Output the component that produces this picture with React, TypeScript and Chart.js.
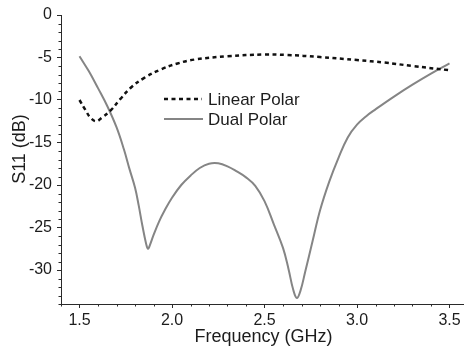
import { useEffect, useRef } from "react";
import { Chart, registerables } from "chart.js";

Chart.register(...registerables);

// Dual Polar (solid gray)
const freqDual = [
  1.5, 1.55, 1.6, 1.65, 1.7, 1.74, 1.77, 1.8, 1.82, 1.84, 1.86, 1.87, 1.88, 1.9, 1.93, 1.96,
  2.0, 2.05, 2.1, 2.15, 2.2, 2.25, 2.3, 2.35, 2.4, 2.45, 2.5, 2.55, 2.6, 2.63, 2.655, 2.675,
  2.695, 2.72, 2.76, 2.8, 2.85, 2.9, 2.95, 3.0, 3.05, 3.1, 3.2, 3.3, 3.4, 3.5,
];
const s11Dual = [
  -4.85, -6.6, -8.6, -10.7, -13.2, -15.8, -18.1, -20.3, -22.4, -24.8, -26.9, -27.5, -27.1,
  -25.9, -24.3, -23.0, -21.5, -20.0, -18.9, -18.0, -17.5, -17.45, -17.8, -18.4, -19.1, -20.1,
  -21.9, -24.6, -27.4, -29.9, -32.3, -33.3, -32.4, -30.2, -26.6, -23.0, -19.6, -16.8, -14.4,
  -12.9, -11.9, -11.1, -9.6, -8.2, -6.9, -5.7,
];

// Linear Polar (dashed black)
const freqLinear = [
  1.5, 1.53, 1.56, 1.59, 1.62, 1.67, 1.72, 1.78, 1.85, 1.94, 2.03, 2.12, 2.3, 2.5, 2.62, 2.8,
  3.0, 3.15, 3.3, 3.5,
];
const s11Linear = [
  -10.0, -11.1, -12.1, -12.5, -12.1, -11.2, -9.9, -8.5, -7.4, -6.4, -5.7, -5.25, -4.85, -4.65,
  -4.7, -4.95, -5.3, -5.6, -6.0, -6.5,
];

const xTickValues = [1.5, 2.0, 2.5, 3.0, 3.5];
const yTickValues = [0, -5, -10, -15, -20, -25, -30];
const xRange = [1.4, 3.6];
const yRange = [-34, 0];
const xMinorStep = 0.1;
const yMinorStep = 1;

const seriesNames = ["Linear Polar", "Dual Polar"];
const xTitle = "Frequency (GHz)";
const yTitle = "S11 (dB)";

const FONT = "'Liberation Sans', Arial, Helvetica, sans-serif";
const AXIS = "#2a2a2a";
const TEXT = "#1c1c1c";

export default function App() {
  const ref = useRef<HTMLCanvasElement | null>(null);

  useEffect(() => {
    const canvas = ref.current;
    if (!canvas) return;

    const decor = {
      id: "decor",
      afterDraw(chart: any) {
        const ctx = chart.ctx as CanvasRenderingContext2D;
        const xs = chart.scales.x;
        const ys = chart.scales.y;
        const area = chart.chartArea;
        ctx.save();
        // minor ticks
        ctx.strokeStyle = AXIS;
        ctx.lineWidth = 1;
        ctx.beginPath();
        const nx = Math.round((xRange[1] - xRange[0]) / xMinorStep);
        for (let i = 0; i <= nx; i++) {
          const v = xRange[0] + i * xMinorStep;
          if (xTickValues.some((t) => Math.abs(t - v) < 1e-6)) continue;
          const px = Math.round(xs.getPixelForValue(v)) + 0.5;
          ctx.moveTo(px, area.bottom);
          ctx.lineTo(px, area.bottom + 2.5);
        }
        const ny = Math.round((yRange[1] - yRange[0]) / yMinorStep);
        for (let i = 0; i <= ny; i++) {
          const v = yRange[1] - i * yMinorStep;
          if (yTickValues.some((t) => Math.abs(t - v) < 1e-6)) continue;
          const py = Math.round(ys.getPixelForValue(v)) + 0.5;
          ctx.moveTo(area.left, py);
          ctx.lineTo(area.left - 2.5, py);
        }
        ctx.stroke();

        // axis titles
        ctx.fillStyle = TEXT;
        ctx.font = `18px ${FONT}`;
        ctx.textAlign = "center";
        ctx.textBaseline = "middle";
        ctx.fillText(xTitle, (area.left + area.right) / 2 - 1, 337);
        ctx.save();
        ctx.translate(20, 149);
        ctx.rotate(-Math.PI / 2);
        ctx.fillText(yTitle, 0, 0);
        ctx.restore();

        // legend
        const lx0 = 164;
        const lx1 = 202;
        const ly = [99, 119];
        ctx.lineWidth = 2.5;
        ctx.strokeStyle = "#111111";
        ctx.setLineDash([4, 3.5]);
        ctx.beginPath();
        ctx.moveTo(lx0, ly[0]);
        ctx.lineTo(lx1, ly[0]);
        ctx.stroke();
        ctx.setLineDash([]);
        ctx.lineWidth = 2;
        ctx.strokeStyle = "#858585";
        ctx.beginPath();
        ctx.moveTo(lx0, ly[1]);
        ctx.lineTo(lx1 + 1, ly[1]);
        ctx.stroke();
        ctx.font = `17px ${FONT}`;
        ctx.textAlign = "left";
        ctx.fillStyle = TEXT;
        ctx.fillText(seriesNames[0], 208, ly[0] + 1);
        ctx.fillText(seriesNames[1], 208, ly[1] + 1);
        ctx.restore();
      },
    };

    const chart = new Chart(canvas, {
      type: "line",
      data: {
        datasets: [
          {
            label: seriesNames[0],
            data: freqLinear.map((f, i) => ({ x: f, y: s11Linear[i] })),
            borderColor: "#111111",
            borderWidth: 2.5,
            borderDash: [4, 3.5],
            pointRadius: 0,
            tension: 0.4,
            fill: false,
          },
          {
            label: seriesNames[1],
            data: freqDual.map((f, i) => ({ x: f, y: s11Dual[i] })),
            borderColor: "#858585",
            borderWidth: 2,
            pointRadius: 0,
            tension: 0.4,
            fill: false,
          },
        ],
      },
      options: {
        animation: false,
        responsive: false,
        devicePixelRatio: 1,
        layout: { padding: { top: 15, right: 2, left: 0, bottom: 0 } },
        plugins: { legend: { display: false }, tooltip: { enabled: false } },
        scales: {
          x: {
            type: "linear",
            min: xRange[0],
            max: xRange[1],
            afterBuildTicks: (s: any) => {
              s.ticks = xTickValues.map((v) => ({ value: v }));
            },
            afterFit: (s: any) => {
              s.height = 46;
            },
            ticks: {
              callback: (v: any) => Number(v).toFixed(1),
              font: { family: FONT, size: 16 },
              color: TEXT,
              padding: 3,
              maxRotation: 0,
              autoSkip: false,
            },
            grid: {
              drawOnChartArea: false,
              drawTicks: true,
              tickLength: 4,
              tickColor: AXIS,
              tickWidth: 1,
            },
            border: { display: true, color: AXIS, width: 1 },
          },
          y: {
            type: "linear",
            min: yRange[0],
            max: yRange[1],
            afterBuildTicks: (s: any) => {
              s.ticks = yTickValues.map((v) => ({ value: v }));
            },
            afterFit: (s: any) => {
              s.width = 61;
            },
            ticks: {
              callback: (v: any) => String(v),
              font: { family: FONT, size: 16 },
              color: TEXT,
              padding: 5,
              autoSkip: false,
            },
            grid: {
              drawOnChartArea: false,
              drawTicks: true,
              tickLength: 4,
              tickColor: AXIS,
              tickWidth: 1,
            },
            border: { display: true, color: AXIS, width: 1 },
          },
        },
      },
      plugins: [decor],
    });

    return () => chart.destroy();
  }, []);

  return (
    <div
      style={{
        position: "absolute",
        left: 0,
        top: 0,
        width: 464,
        height: 350,
        overflow: "hidden",
        background: "#ffffff",
      }}
    >
      <canvas ref={ref} width={470} height={350} style={{ display: "block", width: 470, height: 350 }} />
    </div>
  );
}
